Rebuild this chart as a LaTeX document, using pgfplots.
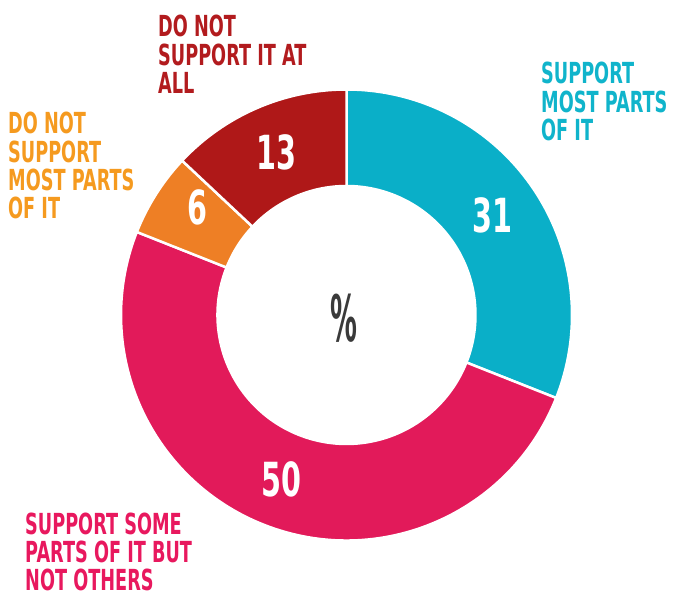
\documentclass[border=0pt]{standalone}
\usepackage{pgfplots}
\usepackage{pgfplotstable}
\pgfplotsset{compat=1.18}
\usepackage{fontspec}
\setmainfont{DejaVu Sans}
\newfontfamily\condfont{DejaVu Sans Bold}[FakeStretch=0.61]
\newfontfamily\pctfont{DejaVu Sans Bold}[FakeStretch=0.42]

\definecolor{cyanS}{HTML}{0AAFC8}
\definecolor{magS}{HTML}{E21A5A}
\definecolor{orgS}{HTML}{EE7F25}
\definecolor{redS}{HTML}{AF1818}
\definecolor{cyanT}{HTML}{10B4CB}
\definecolor{magT}{HTML}{E8185E}
\definecolor{orgT}{HTML}{F59A1F}
\definecolor{redT}{HTML}{B21B1E}
\definecolor{pctgray}{HTML}{3A3A3A}

% share of answers, in per cent, clockwise from the top
% (dy: small vertical nudge of the number inside the ring)
\pgfplotstableread{
value col dy
31 cyanS 0
50 magS 0
6 orgS 13
13 redS 0
}\donut

\def\cum{0}%
\pgfplotsforeachungrouped \i in {0,1,2,3}{%
  \pgfplotstablegetelem{\i}{value}\of\donut
  \let\myval\pgfplotsretval
  \pgfmathsetmacro\sa{90-3.6*\cum}%
  \pgfmathsetmacro\cum{\cum+\myval}%
  \pgfmathsetmacro\ea{90-3.6*\cum}%
  \pgfmathsetmacro\ma{(\sa+\ea)/2}%
  \expandafter\xdef\csname sa\i\endcsname{\sa}%
  \expandafter\xdef\csname ea\i\endcsname{\ea}%
  \expandafter\xdef\csname ma\i\endcsname{\ma}%
  \expandafter\xdef\csname val\i\endcsname{\myval}%
  \pgfplotstablegetelem{\i}{dy}\of\donut
  \expandafter\xdef\csname dy\i\endcsname{\pgfplotsretval}%
  \pgfplotstablegetelem{\i}{col}\of\donut
  \colorlet{col\i}{\pgfplotsretval}%
}%

\def\cx{346.5}
\def\cy{284}
\def\Ro{225.5}
\def\Ri{129}

\begin{document}
\begin{tikzpicture}
\begin{axis}[
    hide axis,
    scale only axis,
    width=673pt, height=599pt,
    xmin=0, xmax=673, ymin=0, ymax=599,
    clip=false
]
\path (axis cs:0,0) rectangle (axis cs:673,599);
\pgfplotsinvokeforeach{0,...,3}{
  \filldraw[fill=col#1, draw=white, line width=2.5pt, line join=miter]
    (axis cs:{\cx+\Ro*cos(\csname sa#1\endcsname)},{\cy+\Ro*sin(\csname sa#1\endcsname)})
    arc[start angle=\csname sa#1\endcsname, end angle=\csname ea#1\endcsname, radius=\Ro pt]
    -- (axis cs:{\cx+\Ri*cos(\csname ea#1\endcsname)},{\cy+\Ri*sin(\csname ea#1\endcsname)})
    arc[start angle=\csname ea#1\endcsname, end angle=\csname sa#1\endcsname, radius=\Ri pt]
    -- cycle;
  \node[text=white, inner sep=0pt, font={\condfont\fontsize{47}{47}\selectfont}]
    at (axis cs:{\cx+177*cos(\csname ma#1\endcsname)},{\cy+177*sin(\csname ma#1\endcsname)+\csname dy#1\endcsname})
    {\csname val#1\endcsname};
}
\node[text=pctgray, inner sep=0pt, font={\pctfont\fontsize{64}{64}\selectfont}]
  at (axis cs:344,281) {\%};

\node[anchor=north west, inner sep=0pt, align=left, text=cyanT,
      font={\condfont\fontsize{29}{28.3}\selectfont}]
  at (axis cs:541,537) {SUPPORT\\MOST PARTS\\OF IT};
\node[anchor=north west, inner sep=0pt, align=left, text=redT,
      font={\condfont\fontsize{29}{28.3}\selectfont}]
  at (axis cs:158,584) {DO NOT\\SUPPORT IT AT\\ALL};
\node[anchor=north west, inner sep=0pt, align=left, text=orgT,
      font={\condfont\fontsize{29}{28.3}\selectfont}]
  at (axis cs:8,487) {DO NOT\\SUPPORT\\MOST PARTS\\OF IT};
\node[anchor=north west, inner sep=0pt, align=left, text=magT,
      font={\condfont\fontsize{29}{28}\selectfont}]
  at (axis cs:25,86) {SUPPORT SOME\\PARTS OF IT BUT\\NOT OTHERS};
\end{axis}
\end{tikzpicture}
\end{document}
